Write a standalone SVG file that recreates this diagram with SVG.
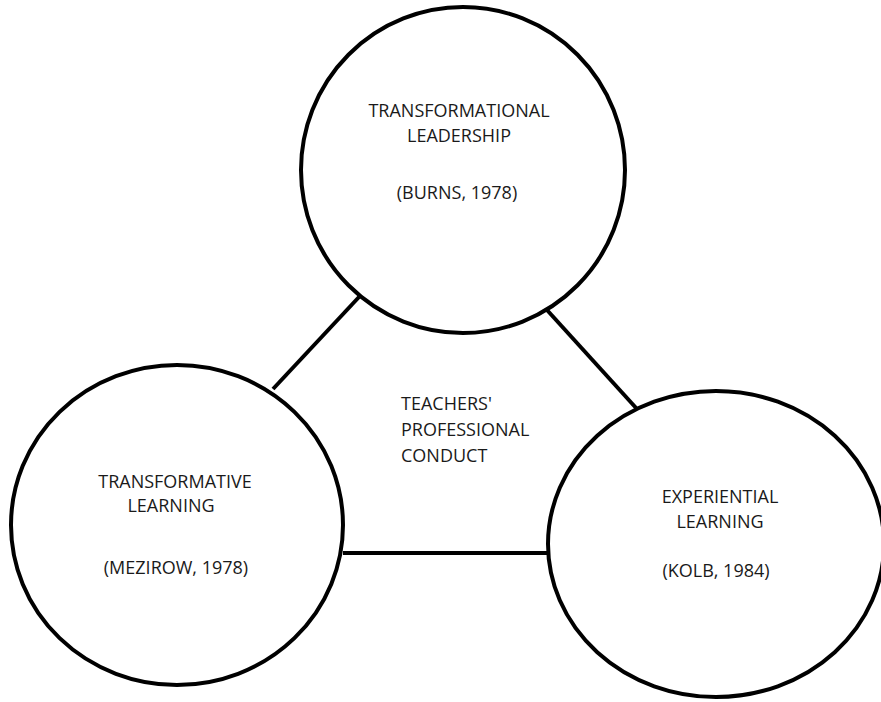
<svg xmlns="http://www.w3.org/2000/svg" width="881" height="702" viewBox="0 0 881 702">
<style>
.c{fill:#fff;stroke:#000;stroke-width:4}
.l{stroke:#000;stroke-width:4;fill:none}
text{font-family:"Open Sans","Liberation Sans",sans-serif;font-size:18px;fill:#1a1a1a}
.m{text-anchor:middle}
</style>
<rect width="881" height="702" fill="#fff"/>
<g id="connectors">
<line class="l" x1="359" y1="297" x2="273" y2="389"/>
<line class="l" x1="547" y1="310" x2="637" y2="409"/>
<line class="l" x1="343" y1="553" x2="549" y2="553"/>
</g>
<g id="top">
<ellipse class="c" cx="463" cy="170" rx="162" ry="163"/>
<text class="m" x="459" y="117">TRANSFORMATIONAL</text>
<text class="m" x="459" y="142">LEADERSHIP</text>
<text class="m" x="457" y="199">(BURNS, 1978)</text>
</g>
<g id="left">
<ellipse class="c" cx="177" cy="525" rx="166" ry="160"/>
<text class="m" x="175" y="488">TRANSFORMATIVE</text>
<text class="m" x="171" y="512">LEARNING</text>
<text class="m" x="176" y="574">(MEZIROW, 1978)</text>
</g>
<g id="right">
<ellipse class="c" cx="716" cy="544" rx="168" ry="153"/>
<text class="m" x="720" y="503">EXPERIENTIAL</text>
<text class="m" x="720" y="528">LEARNING</text>
<text class="m" x="716" y="577">(KOLB, 1984)</text>
</g>
<g id="center">
<text x="401" y="410">TEACHERS'</text>
<text x="401" y="436">PROFESSIONAL</text>
<text x="401" y="462">CONDUCT</text>
</g>
</svg>
